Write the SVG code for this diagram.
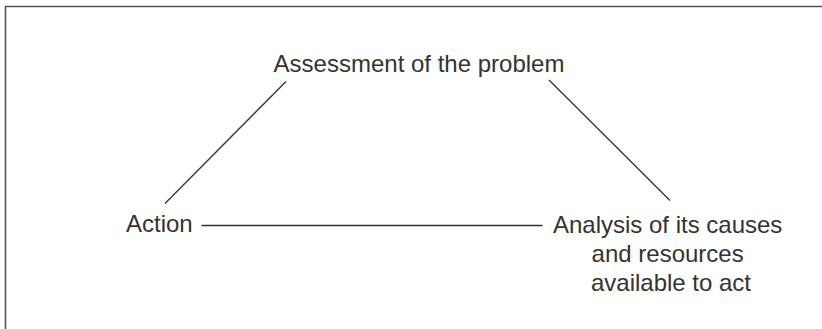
<svg xmlns="http://www.w3.org/2000/svg" width="822" height="329" viewBox="0 0 822 329">
  <style>
    .frame { fill: none; stroke: #555; stroke-width: 1.6; }
    .conn { stroke: #333; stroke-width: 1.3; fill: none; }
    .lbl { font-family: "Liberation Sans", Arial, sans-serif; font-size: 24px; fill: #333; }
  </style>
  <rect width="822" height="329" fill="#fff"/>
  <path class="frame" d="M5.5,329 V6.5 H822"/>
  <g id="connectors">
    <line class="conn" x1="286" y1="81.5" x2="165" y2="203.5"/>
    <line class="conn" x1="549" y1="80" x2="670" y2="200.5"/>
    <line class="conn" x1="201.5" y1="225.5" x2="542.5" y2="225.5"/>
  </g>
  <g id="assessment">
    <text class="lbl" x="419" y="72" text-anchor="middle">Assessment of the problem</text>
  </g>
  <g id="action">
    <text class="lbl" x="126" y="232">Action</text>
  </g>
  <g id="analysis">
    <text class="lbl" text-anchor="middle">
      <tspan x="671" y="233">Analysis of its causes</tspan>
      <tspan x="671" y="262">and resources</tspan>
      <tspan x="671" y="291">available to act</tspan>
    </text>
  </g>
</svg>
